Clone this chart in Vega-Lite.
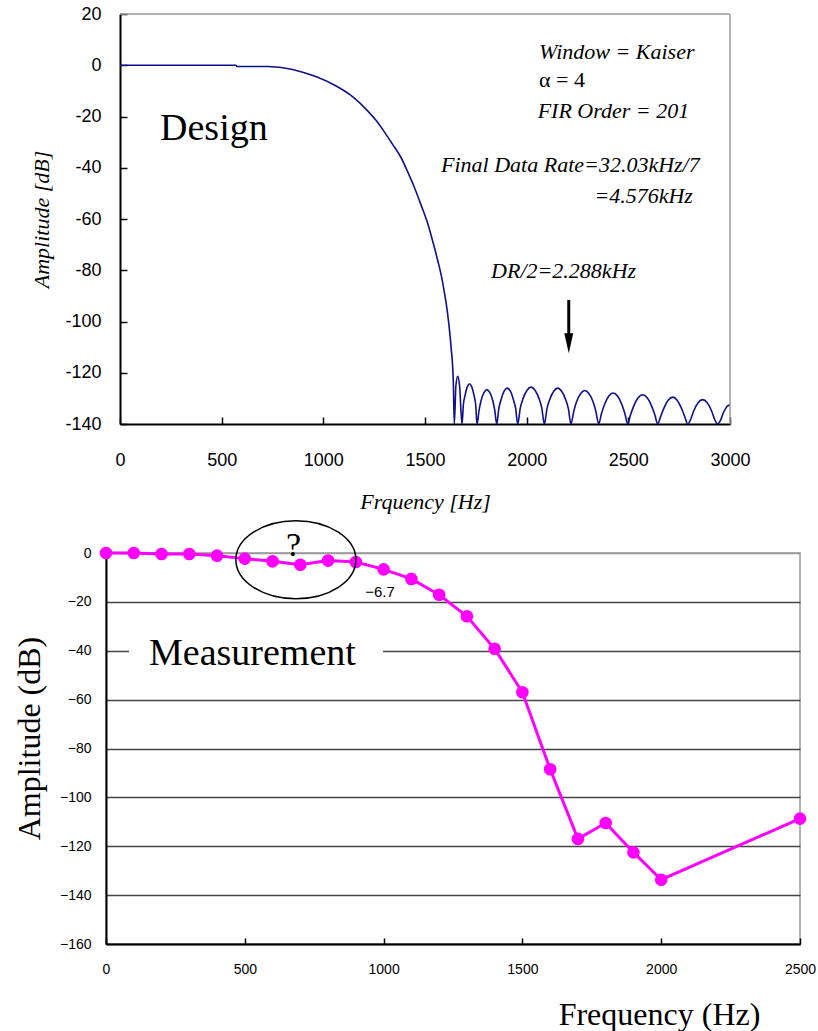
{
  "$schema": "https://vega.github.io/schema/vega-lite/v6.json",
  "background": "white",
  "padding": {"left": 12, "top": 5, "right": 5, "bottom": 0},
  "spacing": 4,
  "config": {
    "view": {"stroke": null},
    "axis": {"grid": false, "labelColor": "black", "titleColor": "black", "domainColor": "black", "tickColor": "black", "labelOverlap": false}
  },
  "vconcat": [
    {
      "width": 624,
      "height": 410,
      "layer": [
        {
          "data": {"values": [
            {"f":0,"a":0},{"f":100,"a":0},{"f":200,"a":0},{"f":300,"a":0},{"f":400,"a":0},{"f":500,"a":0},{"f":570,"a":0},{"f":575,"a":-0.5},{"f":650,"a":-0.5},{"f":726,"a":-0.5},{"f":808,"a":-1.1},{"f":890,"a":-2.5},{"f":972,"a":-4.7},{"f":1054,"a":-7.7},{"f":1136,"a":-11.8},{"f":1218,"a":-17.8},{"f":1260,"a":-21.6},{"f":1300,"a":-26},{"f":1340,"a":-30.8},{"f":1382,"a":-36},{"f":1415,"a":-41.6},{"f":1447,"a":-47.5},{"f":1480,"a":-54.4},{"f":1513,"a":-61.7},{"f":1540,"a":-69.3},{"f":1562,"a":-76},{"f":1580,"a":-82},{"f":1595,"a":-88.5},{"f":1611,"a":-96.8},{"f":1628,"a":-109.8},{"f":1639,"a":-122.8},{"f":1644,"a":-140},
            {"f":1652,"a":-125},{"f":1661,"a":-121.4},{"f":1670,"a":-125},{"f":1682,"a":-140},
            {"f":1689,"a":-132.3},{"f":1697,"a":-128.8},{"f":1708,"a":-125.5},{"f":1719,"a":-124.3},{"f":1730,"a":-125.5},{"f":1741,"a":-128.8},{"f":1749,"a":-132.3},{"f":1756,"a":-140},
            {"f":1766,"a":-134.6},{"f":1775,"a":-131.1},{"f":1790,"a":-127.8},{"f":1804,"a":-126.6},{"f":1819,"a":-127.8},{"f":1834,"a":-131.1},{"f":1843,"a":-134.6},{"f":1853,"a":-140},
            {"f":1863,"a":-134},{"f":1874,"a":-130.5},{"f":1889,"a":-127.2},{"f":1904,"a":-126},{"f":1920,"a":-127.2},{"f":1935,"a":-130.5},{"f":1946,"a":-134},{"f":1956,"a":-140},
            {"f":1969,"a":-133.6},{"f":1982,"a":-130.1},{"f":2002,"a":-126.8},{"f":2021,"a":-125.6},{"f":2041,"a":-126.8},{"f":2061,"a":-130.1},{"f":2074,"a":-133.6},{"f":2087,"a":-140},
            {"f":2100,"a":-134},{"f":2113,"a":-130.5},{"f":2133,"a":-127.2},{"f":2152,"a":-126},{"f":2172,"a":-127.2},{"f":2192,"a":-130.5},{"f":2205,"a":-134},{"f":2218,"a":-140},
            {"f":2232,"a":-134.9},{"f":2245,"a":-131.4},{"f":2266,"a":-128.1},{"f":2286,"a":-126.9},{"f":2306,"a":-128.1},{"f":2327,"a":-131.4},{"f":2340,"a":-134.9},{"f":2354,"a":-140},
            {"f":2368,"a":-135.9},{"f":2383,"a":-132.4},{"f":2404,"a":-129.1},{"f":2425,"a":-127.9},{"f":2447,"a":-129.1},{"f":2468,"a":-132.4},{"f":2483,"a":-135.9},{"f":2497,"a":-140},
            {"f":2510,"a":-136.6},{"f":2526,"a":-133.1},{"f":2548,"a":-129.8},{"f":2570,"a":-128.6},{"f":2593,"a":-129.8},{"f":2615,"a":-133.1},{"f":2631,"a":-136.6},{"f":2644,"a":-140},
            {"f":2657,"a":-137.5},{"f":2674,"a":-134},{"f":2696,"a":-130.7},{"f":2718,"a":-129.5},{"f":2740,"a":-130.7},{"f":2762,"a":-134},{"f":2779,"a":-137.5},{"f":2792,"a":-140},
            {"f":2805,"a":-138.5},{"f":2821,"a":-135},{"f":2843,"a":-131.7},{"f":2865,"a":-130.5},{"f":2888,"a":-131.7},{"f":2910,"a":-135},{"f":2926,"a":-138.5},{"f":2939,"a":-140},
            {"f":2952,"a":-138.8},{"f":2968,"a":-135.5},{"f":2985,"a":-133.2},{"f":3000,"a":-132.5}
          ]},
          "mark": {"type": "line", "color": "#10108a", "strokeWidth": 1.6, "interpolate": "monotone", "clip": true},
          "encoding": {
            "x": {"field": "f", "type": "quantitative",
              "scale": {"domain": [0, 3000], "range": [14, 624], "nice": false, "zero": false},
              "axis": {"title": "Frquency [Hz]", "values": [0,500,1000,1500,2000,2500,3000], "labelExpr": "'' + datum.value", "tickSize": -7, "tickWidth": 1.5, "domainWidth": 2, "labelPadding": 34, "labelFlush": false, "labelAngle": 0,
                "labelFont": "Liberation Sans", "labelFontSize": 18,
                "titleFont": "Liberation Serif", "titleFontStyle": "italic", "titleFontWeight": "normal", "titleFontSize": 22,
                "titleX": 319, "titleY": 77, "titleBaseline": "middle", "titleAlign": "center"}},
            "y": {"field": "a", "type": "quantitative",
              "scale": {"domain": [-140, 20], "nice": false, "zero": false},
              "axis": {"title": "Amplitude [dB]", "values": [-140,-120,-100,-80,-60,-40,-20,0,20], "labelExpr": "'' + datum.value", "offset": -14, "tickSize": -7, "tickWidth": 1.5, "domainWidth": 2, "labelPadding": 26,
                "labelFont": "Liberation Sans", "labelFontSize": 18,
                "titleFont": "Liberation Serif", "titleFontStyle": "italic", "titleFontWeight": "normal", "titleFontSize": 22,
                "titleX": -79, "titleY": 205, "titleBaseline": "middle", "titleAlign": "center"}}
          }
        },
        {
          "data": {"values": [{"f": 0, "a": 20, "f2": 3000, "a2": 20}, {"f": 3000, "a": -140, "f2": 3000, "a2": 20}]},
          "mark": {"type": "rule", "color": "#999999", "strokeWidth": 1.5},
          "encoding": {"x": {"field": "f", "type": "quantitative"}, "x2": {"field": "f2"}, "y": {"field": "a", "type": "quantitative"}, "y2": {"field": "a2"}}
        },
        {
          "data": {"values": [{"f": 2207, "a": -91.6, "a2": -105.3}]},
          "mark": {"type": "rule", "color": "black", "strokeWidth": 3},
          "encoding": {"x": {"field": "f", "type": "quantitative"}, "y": {"field": "a", "type": "quantitative"}, "y2": {"field": "a2"}}
        },
        {
          "data": {"values": [{"f": 2207, "a": -108.5}]},
          "mark": {"type": "point", "shape": "M -0.45 -1 L 0.45 -1 L 0 1 Z", "size": 400, "filled": true, "color": "black", "opacity": 1},
          "encoding": {"x": {"field": "f", "type": "quantitative"}, "y": {"field": "a", "type": "quantitative"}}
        },
        {
          "data": {"values": [{"f": 197, "a": -29.2, "label": "Design"}]},
          "mark": {"type": "text", "font": "Liberation Serif", "fontSize": 38, "align": "left", "baseline": "alphabetic", "color": "black"},
          "encoding": {"x": {"field": "f", "type": "quantitative"}, "y": {"field": "a", "type": "quantitative"}, "text": {"field": "label"}}
        },
        {
          "data": {"values": [
            {"f": 2061, "a": 2.3, "label": "Window = Kaiser"},
            {"f": 2054, "a": -20.7, "label": "FIR Order = 201"},
            {"f": 1579, "a": -41.5, "label": "Final Data Rate=32.03kHz/7"},
            {"f": 2333, "a": -53.9, "label": "=4.576kHz"},
            {"f": 1825, "a": -83.1, "label": "DR/2=2.288kHz"}
          ]},
          "mark": {"type": "text", "font": "Liberation Serif", "fontStyle": "italic", "fontSize": 22, "align": "left", "baseline": "alphabetic", "color": "black"},
          "encoding": {"x": {"field": "f", "type": "quantitative"}, "y": {"field": "a", "type": "quantitative"}, "text": {"field": "label"}}
        },
        {
          "data": {"values": [{"f": 2061, "a": -8.6, "label": "α = 4"}]},
          "mark": {"type": "text", "font": "Liberation Serif", "fontSize": 22, "align": "left", "baseline": "alphabetic", "color": "black"},
          "encoding": {"x": {"field": "f", "type": "quantitative"}, "y": {"field": "a", "type": "quantitative"}, "text": {"field": "label"}}
        }
      ]
    },
    {
      "width": 694,
      "height": 391,
      "view": {"stroke": "#999999", "strokeWidth": 1.5},
      "layer": [
        {
          "data": {"values": [{"f": 83, "f2": 998, "a": -37, "a2": -43}]},
          "mark": {"type": "rect", "color": "white", "opacity": 1},
          "encoding": {
            "x": {"field": "f", "type": "quantitative",
              "scale": {"domain": [0, 2500], "nice": false, "zero": false},
              "axis": {"title": "Frequency (Hz)", "values": [0,500,1000,1500,2000,2500], "format": "d", "tickSize": -6, "tickWidth": 1.5, "domainWidth": 2, "labelPadding": 24, "labelFlush": false, "labelAngle": 0,
                "labelFont": "Liberation Sans", "labelFontSize": 14,
                "titleFont": "Liberation Serif", "titleFontWeight": "normal", "titleFontSize": 32,
                "titleX": 553, "titleY": 70, "titleBaseline": "middle", "titleAlign": "center"}},
            "x2": {"field": "f2"},
            "y": {"field": "a", "type": "quantitative",
              "scale": {"domain": [-160, 0], "nice": false, "zero": false},
              "axis": {"title": "Amplitude (dB)", "values": [-160,-140,-120,-100,-80,-60,-40,-20,0], "format": "d", "ticks": false, "domainWidth": 2, "labelPadding": 15,
                "grid": true, "gridWidth": 1.5, "gridColor": {"condition": {"test": "datum.value === 0", "value": "#999999"}, "value": "#444444"},
                "labelFont": "Liberation Sans", "labelFontSize": 14,
                "titleFont": "Liberation Serif", "titleFontWeight": "normal", "titleFontSize": 32,
                "titleX": -77, "titleY": 185, "titleBaseline": "middle", "titleAlign": "center"}},
            "y2": {"field": "a2"}
          }
        },
        {
          "data": {"values": [
            {"f":0,"a":0},{"f":100,"a":0},{"f":200,"a":-0.4},{"f":300,"a":-0.4},{"f":400,"a":-1.1},{"f":500,"a":-2.3},{"f":600,"a":-3.4},{"f":700,"a":-4.8},{"f":800,"a":-3.1},{"f":900,"a":-3.7},{"f":1000,"a":-6.7},{"f":1100,"a":-10.6},{"f":1200,"a":-17.1},{"f":1300,"a":-25.9},{"f":1400,"a":-39.2},{"f":1500,"a":-57},{"f":1600,"a":-88.5},{"f":1700,"a":-117},{"f":1800,"a":-110.5},{"f":1900,"a":-122.5},{"f":2000,"a":-133.7},{"f":2500,"a":-108.7}
          ]},
          "mark": {"type": "line", "color": "#ff00ff", "strokeWidth": 3, "point": {"filled": true, "size": 160, "color": "#ff00ff", "opacity": 1}},
          "encoding": {"x": {"field": "f", "type": "quantitative"}, "y": {"field": "a", "type": "quantitative"}}
        },
        {
          "data": {"values": [{"f": 155, "a": -45.7, "label": "Measurement"}]},
          "mark": {"type": "text", "font": "Liberation Serif", "fontSize": 38, "align": "left", "baseline": "alphabetic", "color": "black"},
          "encoding": {"x": {"field": "f", "type": "quantitative"}, "y": {"field": "a", "type": "quantitative"}, "text": {"field": "label"}}
        },
        {
          "data": {"values": [{"f": 676, "a": -1.1, "label": "?"}]},
          "mark": {"type": "text", "font": "Liberation Serif", "fontSize": 34, "align": "center", "baseline": "alphabetic", "color": "black"},
          "encoding": {"x": {"field": "f", "type": "quantitative"}, "y": {"field": "a", "type": "quantitative"}, "text": {"field": "label"}}
        },
        {
          "data": {"values": [{"f": 987, "a": -18.2, "label": "−6.7"}]},
          "mark": {"type": "text", "font": "Liberation Sans", "fontSize": 15, "align": "center", "baseline": "alphabetic", "color": "black"},
          "encoding": {"x": {"field": "f", "type": "quantitative"}, "y": {"field": "a", "type": "quantitative"}, "text": {"field": "label"}}
        },
        {
          "data": {"values": [{"f": 684, "a": -2.74}]},
          "mark": {"type": "point", "shape": "M -1 0 A 1 0.65 0 1 0 1 0 A 1 0.65 0 1 0 -1 0 Z", "size": 14400, "filled": false, "color": "black", "strokeWidth": 1.5, "opacity": 1},
          "encoding": {"x": {"field": "f", "type": "quantitative"}, "y": {"field": "a", "type": "quantitative"}}
        }
      ]
    }
  ]
}
